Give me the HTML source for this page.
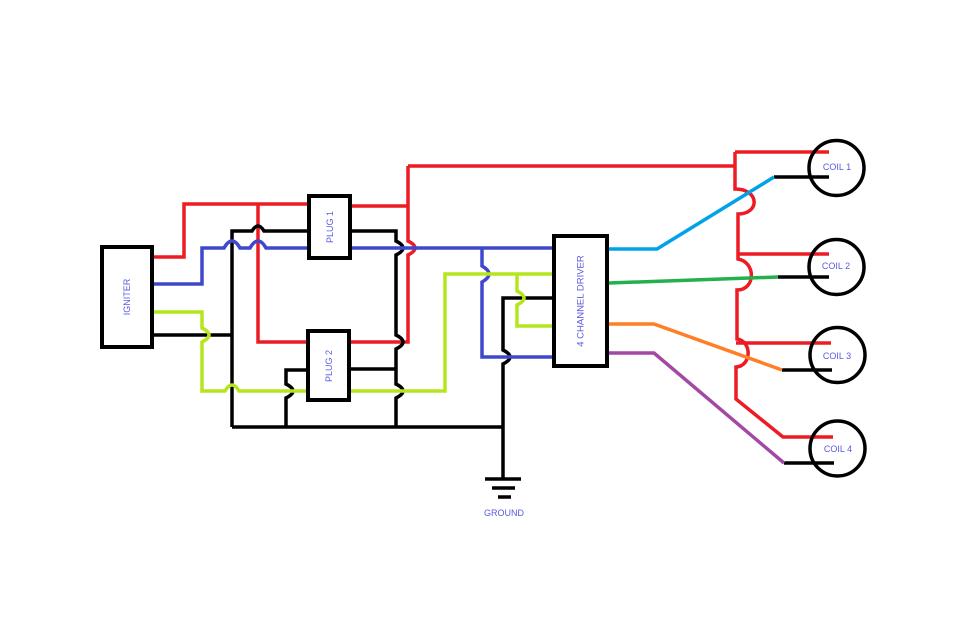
<!DOCTYPE html>
<html><head><meta charset="utf-8"><style>
html,body{margin:0;padding:0;background:#fff;}
svg{display:block;}
text{font-family:"Liberation Sans",sans-serif;font-size:9px;fill:#5a5ae0;}
</style></head><body>
<svg width="957" height="623" viewBox="0 0 957 623" xmlns="http://www.w3.org/2000/svg">
<rect width="957" height="623" fill="#fff"/>
<g fill="none" stroke-width="3.5" stroke-linejoin="miter">
<!-- red -->
<g stroke="#ed1c24">
<path d="M154,257 H184 V204 H307"/>
<path d="M258,204 V342 H307"/>
<path d="M352,206 H408"/>
<path d="M408,166 V241 Q422,248 408,255 V342 H351"/>
<path d="M408,166 H735"/>
<path d="M735,152 H829"/>
<path d="M735,152 V189 C760,189 760,214 738,214 V259 C756,262 756,290 737,290 V339 C752,341 752,366 736,367 V399 L783,437 H833"/>
<path d="M738,254 H829"/>
<path d="M736,343 H831"/>
</g>
<!-- black wires -->
<g stroke="#000">
<path d="M232,427 V231 H252 Q258,221 264,231 H307"/>
<path d="M154,335 H232"/>
<path d="M232,427 H503"/>
<path d="M352,231 H396 V241 Q410,248 396,255 V335 Q410,342 396,349 V384 Q410,391 396,398 V427"/>
<path d="M351,369 H396"/>
<path d="M306,370 H286 V384 Q300,391 286,398 V427"/>
<path d="M552,298 H503 V350 Q517,357 503,364 V479"/>
<path d="M485,479 H521"/>
<path d="M492,488 H515"/>
<path d="M498,497 H511"/>
<path d="M774,177 H829"/>
<path d="M778,277 H829"/>
<path d="M782,370 H832"/>
<path d="M784,463 H834"/>
</g>
<!-- blue -->
<g stroke="#3f48cc">
<path d="M154,284 H202 V248 H224 Q232,234 240,248 H250 Q258,234 266,248 H307"/>
<path d="M352,248 H552"/>
<path d="M482,248 V266 Q496,274 482,282 V357 H552"/>
</g>
<!-- yellow-green -->
<g stroke="#b5e61d">
<path d="M154,312 H202 V328 Q216,335 202,342 V391 H225 Q232,379 239,391 H307"/>
<path d="M351,391 H445 V274 H552"/>
<path d="M517,274 V291 Q531,298 517,305 V326 H552"/>
</g>
<!-- outputs -->
<path d="M609,249 H657 L774,177" stroke="#00a2e8"/>
<path d="M609,283 L778,277" stroke="#22b14c"/>
<path d="M609,324 H654 L782,370" stroke="#ff7f27"/>
<path d="M609,353 H654 L784,463" stroke="#a349a4"/>
<!-- boxes -->
<g stroke="#000" stroke-width="4" fill="#fff">
<rect x="102" y="247" width="50" height="100"/>
<rect x="309" y="196" width="41" height="62"/>
<rect x="308" y="331" width="41" height="69"/>
<rect x="554" y="236" width="53" height="130"/>
</g>
<g stroke="#000" stroke-width="3.5" fill="none">
<circle cx="836.5" cy="168" r="27.5"/>
<circle cx="836.5" cy="267" r="27.5"/>
<circle cx="837.5" cy="355" r="27.5"/>
<circle cx="837.5" cy="448.5" r="27.5"/>
</g>
</g>
<text x="127" y="297" text-anchor="middle" dominant-baseline="central" transform="rotate(-90 127 297)">IGNITER</text>
<text x="330" y="227" text-anchor="middle" dominant-baseline="central" transform="rotate(-90 330 227)">PLUG 1</text>
<text x="329" y="366" text-anchor="middle" dominant-baseline="central" transform="rotate(-90 329 366)">PLUG 2</text>
<text x="581" y="301" text-anchor="middle" dominant-baseline="central" transform="rotate(-90 581 301)" style="font-size:9.5px">4 CHANNEL DRIVER</text>
<text x="504" y="513" text-anchor="middle" dominant-baseline="central">GROUND</text>
<text x="837" y="167" text-anchor="middle" dominant-baseline="central">COIL 1</text>
<text x="836" y="266" text-anchor="middle" dominant-baseline="central">COIL 2</text>
<text x="837" y="356" text-anchor="middle" dominant-baseline="central">COIL 3</text>
<text x="838" y="449" text-anchor="middle" dominant-baseline="central">COIL 4</text>
</svg>
</body></html>
